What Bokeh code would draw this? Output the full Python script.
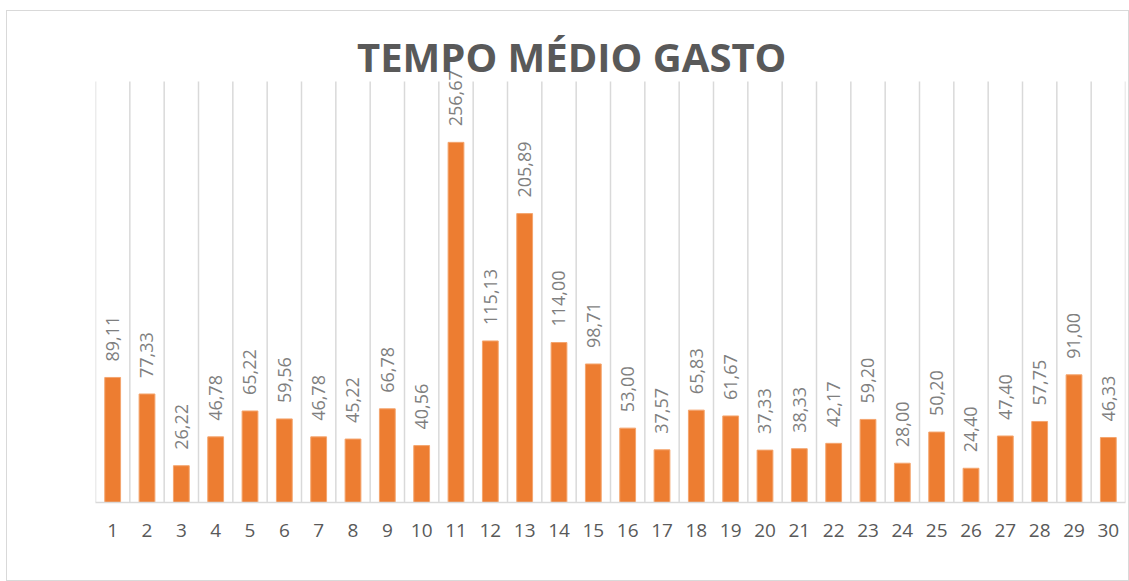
from bokeh.plotting import figure
from bokeh.models import ColumnDataSource, FixedTicker, LabelSet, Label
from bokeh.core.properties import value
from bokeh.embed import file_html
from bokeh.resources import INLINE

categories = list(range(1, 31))
values = [89.11, 77.33, 26.22, 46.78, 65.22, 59.56, 46.78, 45.22, 66.78, 40.56,
          256.67, 115.13, 205.89, 114.00, 98.71, 53.00, 37.57, 65.83, 61.67, 37.33,
          38.33, 42.17, 59.20, 28.00, 50.20, 24.40, 47.40, 57.75, 91.00, 46.33]
labels = [f"{v:.2f}".replace(".", ",") for v in values]
axis_max = 300
title_text = "TEMPO MÉDIO GASTO"

src = ColumnDataSource(dict(x=categories, top=values, lab=labels))
bounds = [c - 0.5 for c in categories] + [categories[-1] + 0.5]

p = figure(width=1123, height=571, output_backend="svg", toolbar_location=None,
           x_range=(0.5, 30.5), y_range=(0, 342.8),
           min_border_left=88, min_border_right=5, min_border_bottom=80, min_border_top=10,
           styles={"border": "1px solid #d9d9d9", "margin-left": "6px", "margin-top": "10px"})
p.outline_line_color = None
p.background_fill_color = "white"
p.border_fill_color = "white"
p.xgrid.visible = False
p.ygrid.visible = False

p.segment(x0=bounds, y0=[0] * len(bounds), x1=bounds, y1=[axis_max] * len(bounds),
          line_color="#d9d9d9", line_width=1.5)

p.vbar(x="x", top="top", width=0.46, source=src, fill_color="#ED7D31", line_color="#F4A56E", line_width=1)
ls = LabelSet(x="x", y="top", text="lab", source=src, angle=1.5708, text_align="left",
              text_baseline="middle", y_offset=16, text_font_size="18px",
              text_color="#7f7f7f", text_font=value("Open Sans"))
p.add_layout(ls)

title = Label(x=14.37, y=317.5, text=title_text, text_align="center", text_baseline="middle",
              text_font="Open Sans", text_font_size="40px", text_font_style="bold",
              text_color="#595959")
p.add_layout(title)

p.yaxis.visible = False
p.xaxis.ticker = FixedTicker(ticks=categories)
p.xaxis.major_tick_line_color = None
p.xaxis.minor_tick_line_color = None
p.xaxis.axis_line_color = "#d9d9d9"
p.xaxis.axis_line_width = 1.5
p.xaxis.major_label_text_font = "Open Sans"
p.xaxis.major_label_text_font_size = "19px"
p.xaxis.major_label_text_color = "#595959"
p.xaxis.major_label_standoff = 15

open("out.html", "w").write(file_html(p, INLINE))
